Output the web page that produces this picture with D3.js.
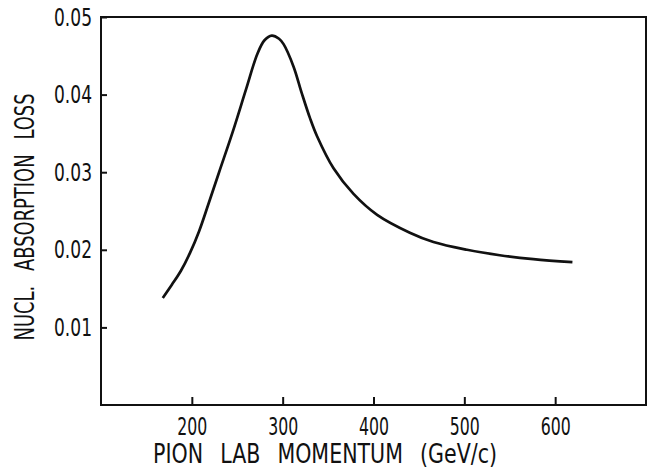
<!DOCTYPE html>
<html>
<head>
<meta charset="utf-8">
<script src="https://cdn.jsdelivr.net/npm/d3@7"></script>
<style>
  body { margin: 0; background: #fff; }
  svg text { font-family: "DejaVu Sans Condensed", "DejaVu Sans", sans-serif; fill: #111; }
</style>
</head>
<body>
<svg id="chart" width="650" height="470"></svg>
<script>
// momentum (GeV/c) and nuclear absorption loss
var momentum = [168, 178, 188, 198, 208, 218, 230, 245, 260, 272, 280, 288, 296, 301, 312, 321, 330, 338, 356, 378, 404, 440, 466, 503, 539, 576, 619];
var loss     = [0.0138, 0.0155, 0.0173, 0.0196, 0.0224, 0.0258, 0.0300, 0.0352, 0.0408, 0.0452, 0.0470, 0.0476, 0.0472, 0.0465, 0.0436, 0.0402, 0.0370, 0.0346, 0.0305, 0.0272, 0.0245, 0.0222, 0.0210, 0.0200, 0.0193, 0.0188, 0.0184];
var xTicks = [200, 300, 400, 500, 600];
var yTicks = [0.01, 0.02, 0.03, 0.04, 0.05];

var svg = d3.select('#chart');
var m = {left: 101, right: 646, top: 17, bottom: 405};

var x = d3.scaleLinear().domain([100, 700]).range([m.left, m.right]);
var y = d3.scaleLinear().domain([0, 0.05]).range([m.bottom, m.top]);

// frame
svg.append('rect')
    .attr('x', m.left).attr('y', m.top)
    .attr('width', m.right - m.left).attr('height', m.bottom - m.top)
    .style('fill', 'none').style('stroke', '#111').style('stroke-width', 2);

var xAxis = svg.append('g')
    .attr('transform', 'translate(0,' + m.bottom + ')')
    .call(d3.axisBottom(x).tickValues(xTicks).tickSizeInner(-8).tickSizeOuter(0).tickPadding(12));

var yAxis = svg.append('g')
    .attr('transform', 'translate(' + m.left + ',0)')
    .call(d3.axisLeft(y).tickValues(yTicks).tickFormat(d3.format('.2f')).tickSizeInner(-6).tickSizeOuter(0).tickPadding(9));

[xAxis, yAxis].forEach(function(g){
    g.select('.domain').remove();
    g.selectAll('line').style('stroke', '#111').style('stroke-width', 2);
    g.selectAll('text').style('font-size', '25px').style('font-family', null)
        .attr('lengthAdjust', 'spacingAndGlyphs');
});
xAxis.selectAll('text').attr('textLength', 30);
yAxis.selectAll('text').attr('textLength', 38);

svg.append('path')
    .datum(d3.zip(momentum, loss))
    .attr('d', d3.line()
        .x(function(d){ return x(d[0]); })
        .y(function(d){ return y(d[1]); })
        .curve(d3.curveCatmullRom.alpha(0.5)))
    .style('fill', 'none')
    .style('stroke', '#111')
    .style('stroke-width', 2.7);

svg.append('text')
    .attr('x', 325).attr('y', 463)
    .attr('text-anchor', 'middle')
    .attr('textLength', 344)
    .attr('lengthAdjust', 'spacingAndGlyphs')
    .style('font-size', '26px')
    .style('word-spacing', '12px')
    .text('PION LAB MOMENTUM (GeV/c)');

svg.append('text')
    .attr('transform', 'translate(34,217) rotate(-90)')
    .attr('text-anchor', 'middle')
    .attr('textLength', 247)
    .attr('lengthAdjust', 'spacingAndGlyphs')
    .style('font-size', '26px')
    .style('word-spacing', '12px')
    .text('NUCL. ABSORPTION LOSS');
</script>
</body>
</html>
